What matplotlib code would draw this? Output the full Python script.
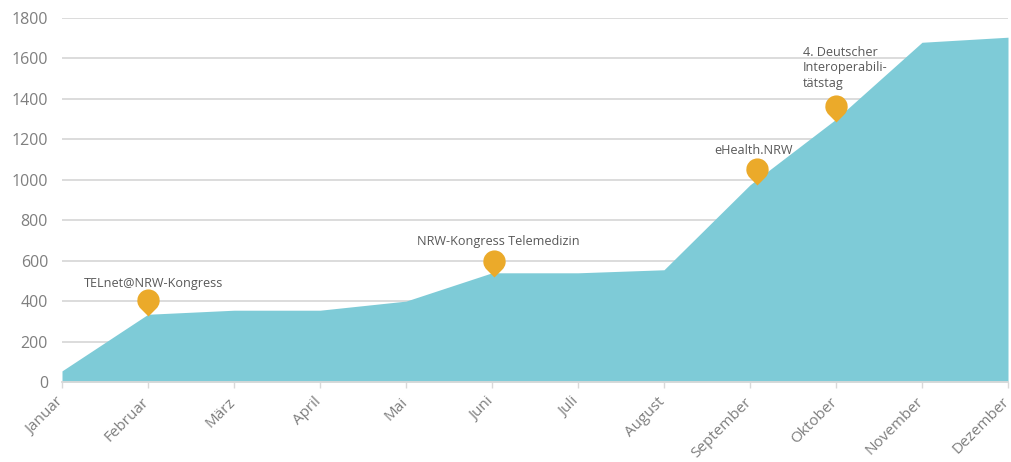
import numpy as np
import matplotlib
matplotlib.use('Agg')
import matplotlib.pyplot as plt
from matplotlib.path import Path
from matplotlib.transforms import ScaledTranslation

months = ['Januar', 'Februar', 'März', 'April', 'Mai', 'Juni', 'Juli', 'August',
          'September', 'Oktober', 'November', 'Dezember']
values = [55, 335, 355, 355, 400, 540, 540, 555, 975, 1300, 1680, 1705]
yticks = [0, 200, 400, 600, 800, 1000, 1200, 1400, 1600, 1800]

# pins sit a little off the months in the original
pin_x = [1.0, 5.02, 8.08, 9.0]
pin_y = [326, 520, 974, 1288]
pin_labels = ['TELnet@NRW-Kongress', 'NRW-Kongress Telemedizin', 'eHealth.NRW',
              '4. Deutscher\nInteroperabili-\ntätstag']
label_x = [84, 417, 714, 803]
label_y = [283, 241, 150, 68]

plt.rcParams['font.family'] = ['Open Sans', 'DejaVu Sans']

W, H = 1012, 462
fig = plt.figure(figsize=(W / 100, H / 100), dpi=100)
ax = fig.add_axes([62 / W, 1 - 382 / H, (1008 - 62) / W, (382 - 18) / H])

x = np.arange(len(months))
ax.fill_between(x, values, 0, color='#7ECBD7', lw=0, zorder=2)

ax.set_xlim(0, 11)
ax.set_ylim(0, 1800)
ax.set_yticks(yticks)
ax.set_xticks(x)
ax.set_xticklabels(months, rotation=45, ha='right', va='top', rotation_mode='anchor')
ax.grid(axis='y', color='#D9D9D9', lw=1.3, zorder=1)
ax.set_axisbelow(True)
for s in ['top', 'right', 'left']:
    ax.spines[s].set_visible(False)
ax.spines['bottom'].set_color('#D9D9D9')
ax.spines['bottom'].set_linewidth(1.3)
ax.tick_params(axis='y', length=0, pad=10, labelsize=11.5, labelcolor='#7F7F7F')
ax.tick_params(axis='x', length=4, width=1, color='#D9D9D9', pad=5, labelsize=11,
               labelcolor='#7F7F7F')

# nudge month labels left so Dezember stays inside the figure
shift = ScaledTranslation(-4.5 / 72, 0, fig.dpi_scale_trans)
for lab in ax.get_xticklabels():
    lab.set_transform(lab.get_transform() + shift)

# drop shaped marker with its tip on (0, 0)
arc = Path.arc(-45, 225)
verts = arc.vertices + [0, 1.42]
pin = Path(np.vstack([verts, [0, 0], [0, 0]]),
           list(arc.codes) + [Path.LINETO, Path.CLOSEPOLY])
ax.plot(pin_x, pin_y, ls='none', marker=pin, ms=39, mfc='#EBAA2A', mec='none',
        zorder=4, clip_on=False)

for lab, lx, ly in zip(pin_labels, label_x, label_y):
    fig.text(lx / W, 1 - ly / H, lab, fontsize=9.1, color='#595959', ha='left', va='center',
             linespacing=1.3)

fig.savefig('out.png', dpi=100)
